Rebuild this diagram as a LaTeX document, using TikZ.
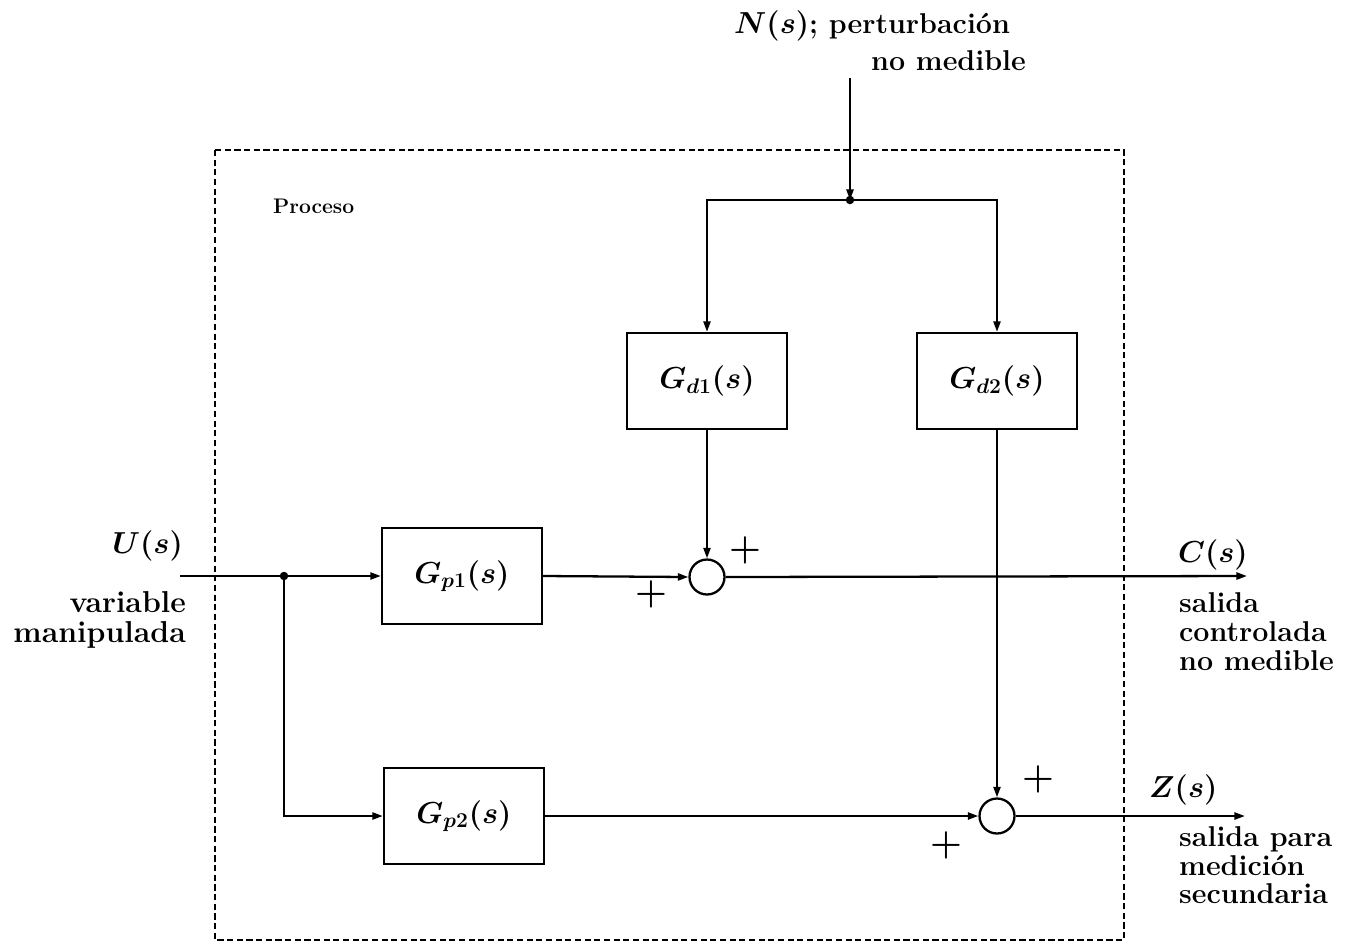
\documentclass[tikz,border=0pt]{standalone}
\usetikzlibrary{arrows.meta}
\begin{document}
\begin{tikzpicture}[x=0.02cm,y=-0.02cm,line width=1.3pt,
  >={Triangle[length=6pt,width=4pt]},
  blk/.style={draw,minimum width=3.2cm,minimum height=1.92cm,inner sep=0pt,
    font=\fontsize{18}{20}\selectfont\boldmath},
  sumc/.style={draw,circle,minimum size=0.7cm,inner sep=0pt},
  lbl/.style={inner sep=0pt,font=\fontsize{16.3}{17}\selectfont\bfseries\boldmath},
  lbll/.style={inner sep=0pt,font=\fontsize{17.2}{18}\selectfont\bfseries\boldmath},
  mlbl/.style={inner sep=0pt,font=\fontsize{18}{20}\selectfont\bfseries\boldmath},
  pls/.style={inner sep=0pt,font=\fontsize{20}{22}\selectfont\boldmath},
  dot/.style={circle,fill,inner sep=0pt,minimum size=0.17cm},
  procbox/.style={dash pattern=on 3.5pt off 2pt,line width=1.3pt}]
\useasboundingbox (0,0) rectangle (1358,944);

% process boundary
\draw[procbox] (215,150) rectangle (1124,940);
\node[inner sep=0pt,anchor=base west,font=\fontsize{12}{14}\selectfont\bfseries] (proc) at (272,213) {Proceso};

% blocks
\node[blk] (Gp1) at (462,576) {$G_{p1}(s)$};
\node[blk] (Gp2) at (464,816) {$G_{p2}(s)$};
\node[blk] (Gd1) at (707,381) {$G_{d1}(s)$};
\node[blk] (Gd2) at (997,381) {$G_{d2}(s)$};

% summing junctions
\node[sumc] (s1) at (707,577) {};
\node[sumc] (s2) at (997,816) {};

% coordinates and junction dots
\coordinate (uin) at (180,576);
\node[dot] (j1) at (284,576) {};
\coordinate (nin) at (850,78);
\node[dot] (j2) at (850,200) {};
\coordinate (cout) at (1247,576);
\coordinate (zout) at (1245,816);

% connectors
\draw[->] (uin) -- (Gp1.west);
\draw[->] (j1.center) |- (Gp2.west);
\draw[->] (Gp1.east) -- (s1.west);
\draw[->] (Gp2.east) -- (s2.west);
\draw[->] (s1.east) -- (cout);
\draw[->] (s2.east) -- (zout);
\draw[->] (nin) -- (j2.center);
\draw[->] (j2.center) -| (Gd1.north);
\draw[->] (j2.center) -| (Gd2.north);
\draw[->] (Gd1.south) -- (s1.north);
\draw[->] (Gd2.south) -- (s2.north);

% signs
\node[pls] (p1a) at (745,550) {$+$};
\node[pls] (p1b) at (651,594) {$+$};
\node[pls] (p2a) at (1038,779) {$+$};
\node[pls] (p2b) at (946,845) {$+$};

% labels
\node[lbl,anchor=base west] (n1) at (733,33) {$N(s)$; perturbación};
\node[lbl,anchor=base east] (n2) at (1027,70) {no medible};

\node[mlbl,anchor=base east] (u) at (184,553) {$U(s)$};
\node[lbll,anchor=base east] (u1) at (187,612) {variable};
\node[lbll,anchor=base east] (u2) at (187,642) {manipulada};

\node[mlbl,anchor=base west] (c) at (1177,562) {$C(s)$};
\node[lbl,anchor=base west] (c1) at (1178,612) {salida};
\node[lbl,anchor=base west] (c2) at (1178,641) {controlada};
\node[lbl,anchor=base west] (c3) at (1178,670) {no medible};

\node[mlbl,anchor=base west] (z) at (1148,797) {$Z(s)$};
\node[lbl,anchor=base west] (z1) at (1178,846) {salida para};
\node[lbl,anchor=base west] (z2) at (1178,875) {medición};
\node[lbl,anchor=base west] (z3) at (1178,903) {secundaria};
\end{tikzpicture}
\end{document}
